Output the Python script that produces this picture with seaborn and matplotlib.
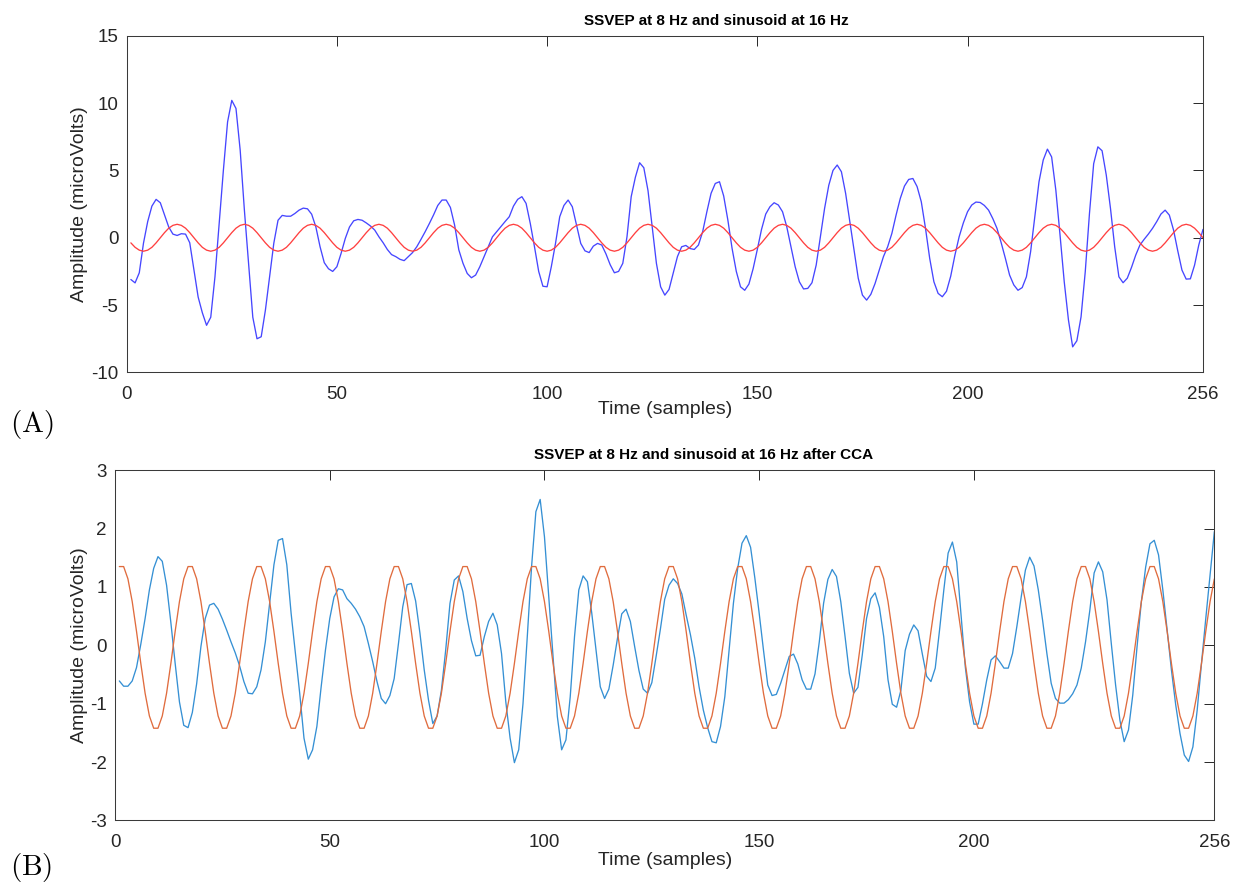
import numpy as np
import matplotlib
matplotlib.use("Agg")
import matplotlib.pyplot as plt
import seaborn as sns

sns.set_style("white")
plt.rcParams["font.family"] = ["Liberation Sans", "DejaVu Sans"]
plt.rcParams["mathtext.fontset"] = "cm"

# sample index of the 1 s recording (256 Hz)
samples = np.arange(1, 257)

# raw SSVEP trace (microvolts)
ssvep_raw = [
    -3.1, -3.35, -2.6, -0.4, 1.2, 2.35, 2.85, 2.6, 1.7, 0.8,
    0.27, 0.17, 0.3, 0.27, -0.37, -2.4, -4.4, -5.57, -6.5, -5.9,
    -2.9, 1.06, 5.0, 8.6, 10.2, 9.6, 6.5, 2.05, -1.9, -5.9,
    -7.5, -7.35, -5.37, -2.9, -0.4, 1.3, 1.66, 1.6, 1.6, 1.8,
    2.05, 2.2, 2.15, 1.75, 0.8, -0.67, -1.85, -2.3, -2.5, -2.15,
    -1.16, -0.05, 0.8, 1.26, 1.36, 1.3, 1.1, 0.87, 0.57, 0.07,
    -0.37, -0.87, -1.25, -1.4, -1.6, -1.7, -1.4, -1.1, -0.67, -0.12,
    0.45, 1.06, 1.7, 2.4, 2.8, 2.8, 2.25, 0.94, -0.9, -1.9,
    -2.65, -2.97, -2.77, -2.15, -1.4, -0.67, 0.07, 0.45, 0.82, 1.2,
    1.56, 2.35, 2.85, 3.05, 2.55, 1.06, -0.67, -2.5, -3.6, -3.64,
    -2.15, -0.42, 1.56, 2.4, 2.8, 2.3, 0.94, -0.42, -0.97, -1.1,
    -0.62, -0.42, -0.54, -1.2, -2.0, -2.6, -2.5, -1.9, 0.07, 3.05,
    4.5, 5.57, 5.2, 3.5, 0.82, -1.9, -3.64, -4.26, -3.84, -2.62,
    -1.4, -0.67, -0.57, -0.8, -0.87, -0.54, 0.45, 1.93, 3.3, 4.03,
    4.16, 3.1, 1.3, -0.8, -2.5, -3.64, -3.9, -3.44, -2.3, -0.87,
    0.62, 1.76, 2.3, 2.6, 2.43, 1.93, 0.82, -0.67, -2.15, -3.27,
    -3.8, -3.76, -3.34, -2.03, 0.07, 2.18, 3.9, 5.0, 5.4, 4.9,
    3.3, 1.2, -0.92, -3.0, -4.26, -4.63, -4.2, -3.4, -2.4, -1.4,
    -0.67, 0.32, 1.68, 2.92, 3.84, 4.33, 4.4, 3.8, 2.67, 0.7,
    -1.53, -3.27, -4.13, -4.38, -3.97, -2.85, -1.29, 0.07, 1.1, 1.93,
    2.43, 2.65, 2.62, 2.4, 2.05, 1.43, 0.7, -0.37, -1.53, -2.77,
    -3.5, -3.9, -3.7, -2.9, -1.04, 1.56, 4.16, 5.77, 6.58, 6.0,
    3.54, 0.2, -3.27, -6.1, -8.1, -7.65, -5.87, -2.52, 1.8, 5.5,
    6.75, 6.46, 4.65, 2.18, -0.67, -2.9, -3.34, -3.0, -2.2, -1.29,
    -0.54, -0.12, 0.27, 0.7, 1.2, 1.76, 2.05, 1.68, 0.57, -0.97,
    -2.4, -3.07, -3.05, -2.03, -0.54, 0.62,
]

# 16 Hz reference sinusoid (unit amplitude)
reference_16hz = [
    -0.38, -0.71, -0.92, -1.0, -0.92, -0.71, -0.38, 0.0, 0.38, 0.71, 0.92, 1.0, 0.92, 0.71, 0.38, 0.0,
    -0.38, -0.71, -0.92, -1.0, -0.92, -0.71, -0.38, 0.0, 0.38, 0.71, 0.92, 1.0, 0.92, 0.71, 0.38, 0.0,
    -0.38, -0.71, -0.92, -1.0, -0.92, -0.71, -0.38, 0.0, 0.38, 0.71, 0.92, 1.0, 0.92, 0.71, 0.38, 0.0,
    -0.38, -0.71, -0.92, -1.0, -0.92, -0.71, -0.38, 0.0, 0.38, 0.71, 0.92, 1.0, 0.92, 0.71, 0.38, 0.0,
    -0.38, -0.71, -0.92, -1.0, -0.92, -0.71, -0.38, 0.0, 0.38, 0.71, 0.92, 1.0, 0.92, 0.71, 0.38, 0.0,
    -0.38, -0.71, -0.92, -1.0, -0.92, -0.71, -0.38, 0.0, 0.38, 0.71, 0.92, 1.0, 0.92, 0.71, 0.38, 0.0,
    -0.38, -0.71, -0.92, -1.0, -0.92, -0.71, -0.38, 0.0, 0.38, 0.71, 0.92, 1.0, 0.92, 0.71, 0.38, 0.0,
    -0.38, -0.71, -0.92, -1.0, -0.92, -0.71, -0.38, 0.0, 0.38, 0.71, 0.92, 1.0, 0.92, 0.71, 0.38, 0.0,
    -0.38, -0.71, -0.92, -1.0, -0.92, -0.71, -0.38, 0.0, 0.38, 0.71, 0.92, 1.0, 0.92, 0.71, 0.38, 0.0,
    -0.38, -0.71, -0.92, -1.0, -0.92, -0.71, -0.38, 0.0, 0.38, 0.71, 0.92, 1.0, 0.92, 0.71, 0.38, 0.0,
    -0.38, -0.71, -0.92, -1.0, -0.92, -0.71, -0.38, 0.0, 0.38, 0.71, 0.92, 1.0, 0.92, 0.71, 0.38, 0.0,
    -0.38, -0.71, -0.92, -1.0, -0.92, -0.71, -0.38, 0.0, 0.38, 0.71, 0.92, 1.0, 0.92, 0.71, 0.38, 0.0,
    -0.38, -0.71, -0.92, -1.0, -0.92, -0.71, -0.38, 0.0, 0.38, 0.71, 0.92, 1.0, 0.92, 0.71, 0.38, 0.0,
    -0.38, -0.71, -0.92, -1.0, -0.92, -0.71, -0.38, 0.0, 0.38, 0.71, 0.92, 1.0, 0.92, 0.71, 0.38, 0.0,
    -0.38, -0.71, -0.92, -1.0, -0.92, -0.71, -0.38, 0.0, 0.38, 0.71, 0.92, 1.0, 0.92, 0.71, 0.38, 0.0,
    -0.38, -0.71, -0.92, -1.0, -0.92, -0.71, -0.38, 0.0, 0.38, 0.71, 0.92, 1.0, 0.92, 0.71, 0.38, 0.0,
]

# SSVEP projected onto the first canonical variate
ssvep_cca = [
    -0.61, -0.70, -0.70, -0.61, -0.38, 0.02, 0.46, 0.95, 1.32, 1.52,
    1.44, 1.03, 0.39, -0.31, -0.97, -1.37, -1.41, -1.15, -0.66, -0.02,
    0.46, 0.69, 0.72, 0.62, 0.45, 0.26, 0.06, -0.13, -0.35, -0.62,
    -0.82, -0.83, -0.71, -0.42, 0.06, 0.72, 1.38, 1.80, 1.83, 1.38,
    0.55, -0.14, -0.82, -1.59, -1.95, -1.79, -1.39, -0.71, -0.08, 0.46,
    0.83, 0.97, 0.95, 0.80, 0.72, 0.62, 0.49, 0.32, 0.03, -0.28,
    -0.62, -0.91, -1.0, -0.86, -0.57, 0.03, 0.66, 1.04, 1.06, 0.76,
    0.21, -0.42, -0.94, -1.34, -1.21, -0.77, -0.08, 0.72, 1.12, 1.19,
    0.92, 0.46, 0.08, -0.18, -0.17, 0.15, 0.41, 0.55, 0.35, -0.14,
    -0.97, -1.59, -2.01, -1.79, -1.0, 0.15, 1.35, 2.29, 2.50, 1.86,
    0.83, -0.19, -1.22, -1.79, -1.62, -0.88, 0.15, 0.95, 1.19, 1.09,
    0.56, -0.08, -0.71, -0.91, -0.75, -0.34, 0.12, 0.54, 0.62, 0.41,
    -0.02, -0.43, -0.75, -0.82, -0.64, -0.19, 0.28, 0.79, 1.03, 1.14,
    1.06, 0.88, 0.52, 0.18, -0.22, -0.71, -1.11, -1.41, -1.65, -1.67,
    -1.39, -0.88, -0.08, 0.72, 1.32, 1.75, 1.88, 1.68, 1.15, 0.55,
    -0.08, -0.68, -0.86, -0.84, -0.65, -0.42, -0.19, -0.15, -0.32, -0.59,
    -0.75, -0.75, -0.49, 0.06, 0.72, 1.13, 1.30, 1.18, 0.75, 0.15,
    -0.48, -0.82, -0.72, -0.17, 0.46, 0.80, 0.90, 0.65, 0.15, -0.59,
    -1.01, -1.06, -0.77, -0.09, 0.19, 0.35, 0.25, -0.15, -0.53, -0.62,
    -0.39, 0.26, 0.95, 1.58, 1.77, 1.43, 0.52, -0.37, -0.97, -1.35,
    -1.35, -1.0, -0.59, -0.25, -0.18, -0.28, -0.39, -0.39, -0.14, 0.32,
    0.82, 1.29, 1.51, 1.36, 0.95, 0.43, -0.14, -0.65, -0.91, -0.99,
    -0.99, -0.93, -0.83, -0.68, -0.39, 0.06, 0.60, 1.24, 1.43, 1.26,
    0.78, 0.03, -0.68, -1.28, -1.65, -1.45, -0.85, -0.02, 0.75, 1.34,
    1.74, 1.80, 1.55, 0.95, 0.26, -0.42, -1.02, -1.51, -1.88, -1.99,
    -1.74, -1.11, -0.31, 0.46, 1.20, 1.95,
]

# 16 Hz reference projected onto the first canonical variate
reference_cca = [
    1.35, 1.35, 1.14, 0.75, 0.24, -0.31, -0.82, -1.21, -1.42, -1.42, -1.21, -0.82, -0.31, 0.24, 0.75, 1.14,
    1.35, 1.35, 1.14, 0.75, 0.24, -0.31, -0.82, -1.21, -1.42, -1.42, -1.21, -0.82, -0.31, 0.24, 0.75, 1.14,
    1.35, 1.35, 1.14, 0.75, 0.24, -0.31, -0.82, -1.21, -1.42, -1.42, -1.21, -0.82, -0.31, 0.24, 0.75, 1.14,
    1.35, 1.35, 1.14, 0.75, 0.24, -0.31, -0.82, -1.21, -1.42, -1.42, -1.21, -0.82, -0.31, 0.24, 0.75, 1.14,
    1.35, 1.35, 1.14, 0.75, 0.24, -0.31, -0.82, -1.21, -1.42, -1.42, -1.21, -0.82, -0.31, 0.24, 0.75, 1.14,
    1.35, 1.35, 1.14, 0.75, 0.24, -0.31, -0.82, -1.21, -1.42, -1.42, -1.21, -0.82, -0.31, 0.24, 0.75, 1.14,
    1.35, 1.35, 1.14, 0.75, 0.24, -0.31, -0.82, -1.21, -1.42, -1.42, -1.21, -0.82, -0.31, 0.24, 0.75, 1.14,
    1.35, 1.35, 1.14, 0.75, 0.24, -0.31, -0.82, -1.21, -1.42, -1.42, -1.21, -0.82, -0.31, 0.24, 0.75, 1.14,
    1.35, 1.35, 1.14, 0.75, 0.24, -0.31, -0.82, -1.21, -1.42, -1.42, -1.21, -0.82, -0.31, 0.24, 0.75, 1.14,
    1.35, 1.35, 1.14, 0.75, 0.24, -0.31, -0.82, -1.21, -1.42, -1.42, -1.21, -0.82, -0.31, 0.24, 0.75, 1.14,
    1.35, 1.35, 1.14, 0.75, 0.24, -0.31, -0.82, -1.21, -1.42, -1.42, -1.21, -0.82, -0.31, 0.24, 0.75, 1.14,
    1.35, 1.35, 1.14, 0.75, 0.24, -0.31, -0.82, -1.21, -1.42, -1.42, -1.21, -0.82, -0.31, 0.24, 0.75, 1.14,
    1.35, 1.35, 1.14, 0.75, 0.24, -0.31, -0.82, -1.21, -1.42, -1.42, -1.21, -0.82, -0.31, 0.24, 0.75, 1.14,
    1.35, 1.35, 1.14, 0.75, 0.24, -0.31, -0.82, -1.21, -1.42, -1.42, -1.21, -0.82, -0.31, 0.24, 0.75, 1.14,
    1.35, 1.35, 1.14, 0.75, 0.24, -0.31, -0.82, -1.21, -1.42, -1.42, -1.21, -0.82, -0.31, 0.24, 0.75, 1.14,
    1.35, 1.35, 1.14, 0.75, 0.24, -0.31, -0.82, -1.21, -1.42, -1.42, -1.21, -0.82, -0.31, 0.24, 0.75, 1.14,
]

x_ticks = [0, 50, 100, 150, 200, 256]
top_yticks = [-10, -5, 0, 5, 10, 15]
bottom_yticks = [-3, -2, -1, 0, 1, 2, 3]

top_title = "SSVEP at 8 Hz and sinusoid at 16 Hz"
bottom_title = "SSVEP at 8 Hz and sinusoid at 16 Hz after CCA"
x_label = "Time (samples)"
y_label = "Amplitude (microVolts)"

INK = "#262626"

fig = plt.figure(figsize=(12.37, 8.91), dpi=100)
ax_a = fig.add_axes([0.1024, 0.582, 0.8701, 0.3779])
ax_b = fig.add_axes([0.093, 0.0792, 0.8887, 0.393])

# panel A: raw signal with reference sinusoid
sns.lineplot(x=samples, y=ssvep_raw, ax=ax_a, color="#4646ff",
             linewidth=0.95, estimator=None, sort=False)
sns.lineplot(x=samples, y=reference_16hz, ax=ax_a, color="#ff4040",
             linewidth=0.95, estimator=None, sort=False)

# panel B: canonical variates
sns.lineplot(x=samples, y=ssvep_cca, ax=ax_b, color="#3590d4",
             linewidth=0.95, estimator=None, sort=False)
sns.lineplot(x=samples, y=reference_cca, ax=ax_b, color="#e06c3e",
             linewidth=0.95, estimator=None, sort=False)

for ax, yt, title, tx in ((ax_a, top_yticks, top_title, 0.5475),
                          (ax_b, bottom_yticks, bottom_title, 0.535)):
    ax.set_xlim(0, 256)
    ax.set_ylim(yt[0], yt[-1])
    ax.set_xticks(x_ticks)
    ax.set_yticks(yt)
    ax.set_xticklabels([str(v) for v in x_ticks])
    ax.set_yticklabels([str(v) for v in yt])
    ax.tick_params(axis="both", direction="in", top=True, right=True,
                   length=7.5, width=0.7, color=INK, labelcolor=INK,
                   labelsize=13.5)
    ax.tick_params(axis="x", pad=9.5)
    ax.tick_params(axis="y", pad=6)
    for spine in ax.spines.values():
        spine.set_visible(True)
        spine.set_color("#3a3a3a")
        spine.set_linewidth(0.75)
    ax.grid(False)
    ax.set_title(title, fontsize=11, fontweight="bold", color="black",
                 pad=8, x=tx)
    ax.set_xlabel(x_label, fontsize=14, color=INK)
    ax.set_ylabel(y_label, fontsize=14, color=INK)

ax_a.xaxis.set_label_coords(0.5, -0.085)
ax_b.xaxis.set_label_coords(0.5, -0.090)
ax_a.yaxis.set_label_coords(-0.036, 0.5)
ax_b.yaxis.set_label_coords(-0.0246, 0.5)

fig.text(10 / 1237, 1 - 425 / 891, r"$\mathrm{(A)}$", fontsize=21,
         ha="left", va="center", color="black")
fig.text(10 / 1237, 1 - 868 / 891, r"$\mathrm{(B)}$", fontsize=21,
         ha="left", va="center", color="black")

fig.savefig("out.png", dpi=100, facecolor="white")
